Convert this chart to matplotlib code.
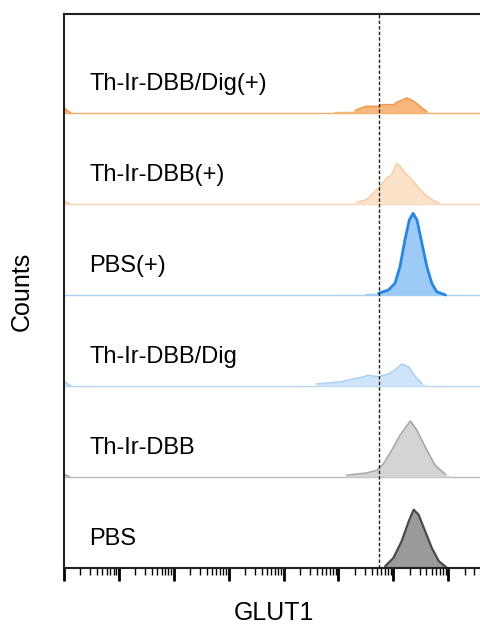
import numpy as np
import matplotlib
matplotlib.use('Agg')
import matplotlib.pyplot as plt
import matplotlib.transforms as mtransforms
from matplotlib.ticker import LogLocator, NullFormatter

plt.rcParams['font.family'] = ['Liberation Sans', 'DejaVu Sans']

# GLUT1 intensity as log10 values, counts in relative units (91 = one lane)
labels = ['PBS', 'Th-Ir-DBB', 'Th-Ir-DBB/Dig', 'PBS(+)', 'Th-Ir-DBB(+)', 'Th-Ir-DBB/Dig(+)']

pbs_x = [5.78, 5.85, 6.00, 6.15, 6.28, 6.37, 6.46, 6.58, 6.70, 6.83, 6.98]
pbs_y = [0, 1.7, 10, 26.7, 46.7, 58.3, 53.3, 36.7, 20, 6.7, 0]

dbb_x = [0.0, 0.10, 5.10, 5.15, 5.51, 5.70, 5.82, 5.97, 6.12, 6.31, 6.43, 6.58, 6.76, 6.95, 7.07]
dbb_y = [3, 0, 0, 1.7, 4, 6.7, 13.3, 26.7, 41.7, 56, 46.7, 30, 11.7, 2.7, 0]

dig_x = [0.0, 0.12, 4.58, 4.60, 5.06, 5.24, 5.42, 5.54, 5.73, 5.91, 6.03, 6.15, 6.28, 6.40, 6.52, 6.64]
dig_y = [5, 0, 0, 2, 4.3, 6.7, 8.7, 10.7, 9.3, 12, 16, 22, 19.3, 9.3, 2.7, 0]

pbs_p_x = [5.45, 5.51, 5.73, 5.91, 6.03, 6.12, 6.21, 6.29, 6.36, 6.43, 6.52, 6.61, 6.70, 6.79, 6.95]
pbs_p_y = [0, 1.7, 1.7, 5, 11.7, 28.3, 55, 75, 81.7, 75, 51.7, 28.3, 11.7, 3.3, 0]

dbb_p_x = [0.0, 0.10, 5.30, 5.33, 5.51, 5.64, 5.76, 5.88, 5.97, 6.06, 6.12, 6.21, 6.34, 6.46, 6.58, 6.70, 6.83, 6.89]
dbb_p_y = [3, 0, 0, 1.7, 4.3, 11, 17.7, 26, 29.3, 40.3, 38, 31, 24.3, 16, 9.3, 4.3, 1, 0]

dig_p_x = [0.0, 0.12, 4.88, 4.92, 5.27, 5.31, 5.42, 5.50, 5.73, 5.79, 6.01, 6.06, 6.15, 6.25, 6.34, 6.43, 6.52, 6.61, 6.70]
dig_p_y = [5, 0, 0, 1.6, 1.8, 2.6, 5, 6.6, 6.6, 8.3, 8.3, 10.6, 12.6, 15, 12.6, 9.3, 5, 1.6, 0]

gate = 5.73
lane = 91.0

xs = [pbs_x, dbb_x, dig_x, pbs_p_x, dbb_p_x, dig_p_x]
ys = [pbs_y, dbb_y, dig_y, pbs_p_y, dbb_p_y, dig_p_y]
fills = ['#9a9a9a', '#d4d4d4', '#cde4f9', '#9dcbf6', '#fde2ca', '#f7b77c']
lines = ['#4a4a4a', '#a8a8a8', '#a9d0f4', '#2286ea', '#f9cba0', '#f29a48']
bases = ['#4a4a4a', '#b8b8b8', '#b3d6f6', '#a9d0f4', '#fad3ae', '#f6ad6a']
widths = [1.6, 1.2, 1.1, 2.0, 1.1, 1.2]

xmin, xmax = 0.0, 7.64

fig = plt.figure(figsize=(4.81, 6.25), dpi=100)
ax = fig.add_axes([0.133, 0.0912, 0.872, 0.8864])

for i in range(6):
    x = np.array(xs[i])
    y = np.array(ys[i]) / lane + i
    ax.hlines(i, 10 ** xmin, 10 ** xmax, color=bases[i], lw=1.0, zorder=2)
    ax.fill_between(10 ** x, i, y, color=fills[i], lw=0, zorder=2)
    # outline only where the peak lifts off the baseline
    up = np.where(np.array(ys[i]) >= 3)[0]
    for seg in np.split(up, np.where(np.diff(up) > 1)[0] + 1):
        a = max(seg[0] - 1, 0)
        b = min(seg[-1] + 2, len(x))
        ax.plot(10 ** x[a:b], y[a:b], color=lines[i], lw=widths[i], zorder=3,
                solid_joinstyle='round', solid_capstyle='round')

trans = mtransforms.blended_transform_factory(ax.transAxes, ax.transData)
for i, lab in enumerate(labels):
    ax.text(0.06, i + 0.32, lab, transform=trans, fontsize=17, va='center', ha='left')

ax.axvline(10 ** gate, color='#222222', ls=(0, (2.5, 1.5)), lw=1.0, zorder=4)

ax.set_xscale('log')
ax.set_xlim(10 ** xmin, 10 ** xmax)
ax.set_ylim(0, 554 / lane)
ax.xaxis.set_major_locator(LogLocator(base=10, numticks=20))
ax.xaxis.set_minor_locator(LogLocator(base=10, subs=np.arange(2, 10), numticks=100))
ax.xaxis.set_major_formatter(NullFormatter())
ax.xaxis.set_minor_formatter(NullFormatter())
ax.tick_params(axis='x', which='major', direction='out', length=9.5, width=2)
ax.tick_params(axis='x', which='minor', direction='out', length=5, width=1)
ax.set_yticks([])

for s in ax.spines.values():
    s.set_linewidth(1.5)
    s.set_color('#222222')
    s.set_zorder(5)

ax.set_ylabel('Counts', fontsize=18, labelpad=22)
ax.set_xlabel('GLUT1', fontsize=18, labelpad=11)

fig.savefig('out.png', dpi=100)
